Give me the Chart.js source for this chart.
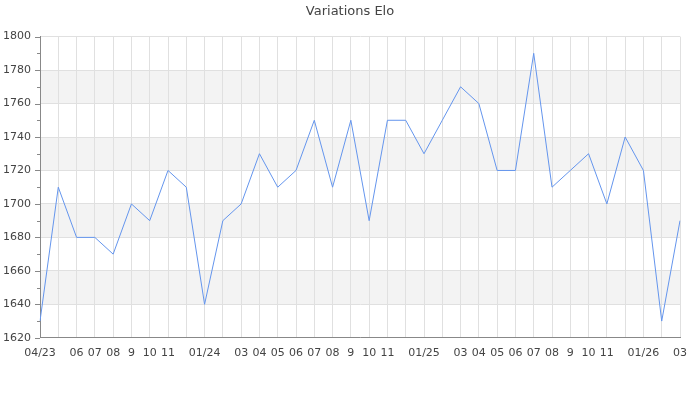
<!DOCTYPE html>
<html><head><meta charset="utf-8">
<script src="https://cdn.jsdelivr.net/npm/chart.js@4/dist/chart.umd.min.js"></script>
<style>html,body{margin:0;padding:0;background:#fff}</style>
</head><body>
<canvas id="c" width="700" height="400"></canvas>
<script>
const labels = ["04/23","","06","07","08","9","10","11","","01/24","","03","04","05","06","07","08","9","10","11","","01/25","","03","04","05","06","07","08","9","10","11","","01/26","","03"];
const elo = [1630,1710,1680,1680,1670,1700,1690,1720,1710,1640,1690,1700,1730,1710,1720,1750,1710,1750,1690,1750,1750,1730,1750,1770,1760,1720,1720,1790,1710,1720,1730,1700,1740,1720,1630,1690];
const yMin = 1620, yMax = 1800, yStep = 20, yMinor = 10;
const bands = [[1640,1660],[1680,1700],[1720,1740],[1760,1780]];

const bandPlugin = {
  id: 'bands',
  beforeDraw(chart) {
    const {ctx, chartArea, scales} = chart;
    const y = scales.y;
    ctx.save();
    ctx.fillStyle = '#f3f3f3';
    bands.forEach(([a,b]) => {
      const y1 = y.getPixelForValue(b), y2 = y.getPixelForValue(a);
      ctx.fillRect(chartArea.left, y1, chartArea.right - chartArea.left, y2 - y1);
    });
    ctx.restore();
  },
  afterDraw(chart) {
    const {ctx, chartArea, scales} = chart;
    const y = scales.y;
    ctx.save();
    ctx.strokeStyle = '#888';
    ctx.lineWidth = 1;
    ctx.beginPath();
    for (let v = yMin; v <= yMax; v += yMinor) {
      const p = Math.round(y.getPixelForValue(v)) + 0.5;
      const len = (v - yMin) % yStep === 0 ? 5 : 3;
      ctx.moveTo(chartArea.left - len, p);
      ctx.lineTo(chartArea.left, p);
    }
    ctx.stroke();
    ctx.restore();
  }
};

new Chart(document.getElementById('c'), {
  type: 'line',
  data: {
    labels: labels,
    datasets: [{
      data: elo,
      borderColor: '#6495ED',
      borderWidth: 1,
      pointRadius: 0,
      tension: 0,
      fill: false
    }]
  },
  options: {
    responsive: false,
    animation: false,
    devicePixelRatio: 1,
    layout: { padding: { left: 0, right: 0, top: 0, bottom: 31 } },
    plugins: {
      legend: { display: false },
      tooltip: { enabled: false },
      title: {
        display: true,
        text: 'Variations Elo',
        color: '#444',
        font: { family: 'DejaVu Sans', size: 13, weight: 'normal' },
        padding: { top: 4, bottom: 17 }
      }
    },
    scales: {
      x: {
        type: 'category',
        offset: false,
        grid: { color: '#e0e0e0', drawTicks: false },
        border: { color: '#888' },
        afterFit: s => { s.paddingLeft = 0; s.paddingRight = 20; },
        ticks: {
          autoSkip: false, maxRotation: 0, minRotation: 0, padding: 9,
          color: '#444', font: { family: 'DejaVu Sans', size: 11 }
        }
      },
      y: {
        min: yMin, max: yMax,
        grid: { color: '#e0e0e0', drawTicks: false },
        border: { color: '#888' },
        afterFit: s => { s.width = 40; },
        ticks: {
          stepSize: yStep, padding: 9,
          color: '#444', font: { family: 'DejaVu Sans', size: 11 },
          callback: v => String(v)
        }
      }
    }
  },
  plugins: [bandPlugin]
});
</script>
</body></html>
